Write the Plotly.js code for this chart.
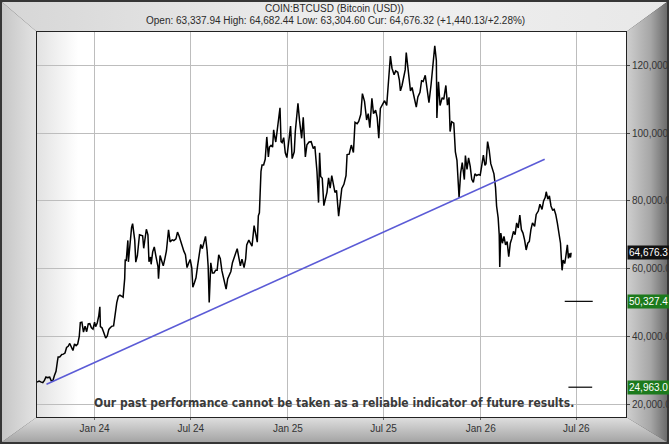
<!DOCTYPE html>
<html>
<head>
<meta charset="utf-8">
<script src="https://cdn.plot.ly/plotly-3.0.1.min.js"></script>
<style>html,body{margin:0;padding:0;background:#fff;}#chart{width:669px;height:444px;}</style>
</head>
<body>
<div id="chart"></div>
<script>
// ---- data ----
const titleLine1 = 'COIN:BTCUSD (Bitcoin (USD))';
const titleLine2 = 'Open: 63,337.94 High: 64,682.44 Low: 63,304.60 Cur: 64,676.32 (+1,440.13/+2.28%)';
const disclaimer = 'Our past performance cannot be taken as a reliable indicator of future results.';

const dates2023 = [
 '2023-09-14','2023-09-18','2023-09-21','2023-09-25','2023-09-28','2023-10-01','2023-10-04','2023-10-08',
 '2023-10-11','2023-10-14','2023-10-17','2023-10-20','2023-10-23','2023-10-24','2023-10-27','2023-10-31',
 '2023-11-03','2023-11-06','2023-11-09','2023-11-12','2023-11-15','2023-11-18','2023-11-21','2023-11-24',
 '2023-11-27','2023-11-30','2023-12-03','2023-12-05','2023-12-08','2023-12-11','2023-12-14','2023-12-17',
 '2023-12-20','2023-12-23','2023-12-26','2023-12-29'
];
const values2023 = [
 26500,26800,26550,26300,27000,27980,27800,27930,
 26870,26850,28400,29680,33000,33900,33900,34650,
 34730,35050,36700,37050,37880,36600,35800,37720,
 37250,37710,39950,44080,44200,41250,43000,41370,
 43650,43740,42520,42100
];
const dates2024 = [
 '2024-01-01','2024-01-03','2024-01-06','2024-01-09','2024-01-11','2024-01-12','2024-01-15','2024-01-18',
 '2024-01-22','2024-01-25','2024-01-28','2024-01-31','2024-02-03','2024-02-06','2024-02-09','2024-02-12',
 '2024-02-15','2024-02-18','2024-02-21','2024-02-24','2024-02-27','2024-02-28','2024-03-01','2024-03-04',
 '2024-03-05','2024-03-08','2024-03-11','2024-03-13','2024-03-17','2024-03-19','2024-03-22','2024-03-26',
 '2024-03-29','2024-04-01','2024-04-03','2024-04-08','2024-04-11','2024-04-13','2024-04-16','2024-04-17',
 '2024-04-20','2024-04-23','2024-04-26','2024-04-30','2024-05-01','2024-05-04','2024-05-07','2024-05-10',
 '2024-05-13','2024-05-16','2024-05-20','2024-05-23','2024-05-27','2024-05-30','2024-06-03','2024-06-06',
 '2024-06-09','2024-06-12','2024-06-15','2024-06-18','2024-06-21','2024-06-24','2024-06-27','2024-06-30',
 '2024-07-03','2024-07-05','2024-07-08','2024-07-11','2024-07-14','2024-07-17','2024-07-20','2024-07-23',
 '2024-07-26','2024-07-29','2024-08-01','2024-08-03','2024-08-05','2024-08-08','2024-08-11','2024-08-14',
 '2024-08-17','2024-08-20','2024-08-23','2024-08-26','2024-08-29','2024-09-01','2024-09-06','2024-09-09',
 '2024-09-12','2024-09-15','2024-09-18','2024-09-21','2024-09-24','2024-09-27','2024-09-30','2024-10-03',
 '2024-10-06','2024-10-10','2024-10-13','2024-10-15','2024-10-19','2024-10-22','2024-10-25','2024-10-29',
 '2024-11-01','2024-11-04','2024-11-06','2024-11-08','2024-11-11','2024-11-13','2024-11-16','2024-11-19',
 '2024-11-22','2024-11-25','2024-11-27','2024-11-30','2024-12-03','2024-12-05','2024-12-06','2024-12-09',
 '2024-12-12','2024-12-15','2024-12-17','2024-12-19','2024-12-21','2024-12-24','2024-12-27','2024-12-30'
];
const values2024 = [
 44180,42850,43930,46120,48700,42850,42510,41280,
 39500,40080,42030,42580,43010,43080,47150,49960,
 51840,52130,51850,51570,57050,62500,62430,68330,
 62000,68300,72120,73300,68400,61900,63800,69990,
 69900,69700,66000,71620,70000,62000,63400,61270,
 64940,66400,63750,60600,57000,63890,62300,60800,
 62900,65200,71450,67900,68500,68300,68800,70800,
 69650,68200,66200,65150,64100,60300,61600,62700,
 60200,54500,55850,57300,60800,64100,67150,65900,
 67900,69500,65350,60700,50000,61700,58700,58700,
 59500,59500,64100,62900,59400,57300,53950,57000,
 58100,59150,61750,63200,64300,65900,63300,60800,
 62800,60300,62900,67000,68400,67400,66600,72700,
 69500,67800,75600,76500,88700,90600,90600,92300,
 98900,93000,95900,96400,95900,101000,99900,97400,
 101000,104500,107500,97500,97200,98700,94200,92800
];
const dates2025 = [
 '2025-01-02','2025-01-06','2025-01-09','2025-01-13','2025-01-15','2025-01-17','2025-01-20','2025-01-23',
 '2025-01-27','2025-01-30','2025-02-02','2025-02-03','2025-02-06','2025-02-10','2025-02-14','2025-02-18',
 '2025-02-21','2025-02-25','2025-02-28','2025-03-02','2025-03-04','2025-03-07','2025-03-10','2025-03-13',
 '2025-03-16','2025-03-19','2025-03-22','2025-03-25','2025-03-28','2025-03-31','2025-04-03','2025-04-07',
 '2025-04-10','2025-04-13','2025-04-17','2025-04-21','2025-04-23','2025-04-27','2025-05-01','2025-05-05',
 '2025-05-08','2025-05-12','2025-05-15','2025-05-19','2025-05-22','2025-05-26','2025-05-30','2025-06-02',
 '2025-06-05','2025-06-09','2025-06-12','2025-06-16','2025-06-19','2025-06-22','2025-06-25','2025-06-29',
 '2025-07-03','2025-07-07','2025-07-10','2025-07-14','2025-07-17','2025-07-21','2025-07-24','2025-07-28',
 '2025-07-31','2025-08-02','2025-08-05','2025-08-08','2025-08-11','2025-08-13','2025-08-18','2025-08-21',
 '2025-08-24','2025-08-27','2025-08-30','2025-09-01','2025-09-04','2025-09-08','2025-09-11','2025-09-14',
 '2025-09-18','2025-09-22','2025-09-25','2025-09-29','2025-10-02','2025-10-06','2025-10-09','2025-10-10',
 '2025-10-13','2025-10-16','2025-10-20','2025-10-23','2025-10-27','2025-10-30','2025-11-02','2025-11-04',
 '2025-11-07','2025-11-11','2025-11-14','2025-11-17','2025-11-21','2025-11-24','2025-11-27','2025-12-01',
 '2025-12-03','2025-12-06','2025-12-09','2025-12-12','2025-12-15','2025-12-18','2025-12-21','2025-12-24',
 '2025-12-28','2025-12-31'
];
const values2025 = [
 96900,102100,92500,94500,100500,104500,108800,103700,
 98500,104700,97700,93000,96600,97400,97500,95500,
 96100,88700,79500,94200,87200,86700,78600,80700,
 82600,86800,83800,87500,84400,82500,83100,75500,
 79600,83700,84900,87500,93700,93800,96500,94300,
 103200,102800,103500,105600,111700,109400,103900,105800,
 101600,110300,105800,106800,104600,98500,107300,108400,
 109600,108200,116000,122800,119200,117300,118400,118000,
 115700,112500,114100,116700,118700,123800,116200,112500,
 113500,111200,108800,107700,110700,112100,115500,115300,
 117100,112700,109000,114400,120500,125800,121500,104500,
 115200,108200,110500,110000,114100,108300,110600,100500,
 103400,103000,94500,92000,81000,88300,91300,86300,
 93400,89300,92700,90300,86400,85500,88000,87500,
 87800,87600
];
const dates2026 = [
 '2026-01-03','2026-01-06','2026-01-09','2026-01-11','2026-01-14','2026-01-17','2026-01-20','2026-01-23',
 '2026-01-26','2026-01-29','2026-01-31','2026-02-03','2026-02-05','2026-02-06','2026-02-08','2026-02-11',
 '2026-02-14','2026-02-17','2026-02-20','2026-02-23','2026-02-26','2026-03-01','2026-03-04','2026-03-07',
 '2026-03-10','2026-03-13','2026-03-16','2026-03-19','2026-03-22','2026-03-25','2026-03-28','2026-03-31',
 '2026-04-03','2026-04-06','2026-04-09','2026-04-13','2026-04-16','2026-04-20','2026-04-23','2026-04-27',
 '2026-04-30','2026-05-03','2026-05-05','2026-05-08','2026-05-11','2026-05-14','2026-05-17','2026-05-20',
 '2026-05-23','2026-05-26','2026-05-29','2026-06-01','2026-06-03','2026-06-04','2026-06-06','2026-06-09',
 '2026-06-11','2026-06-14','2026-06-16','2026-06-18','2026-06-20','2026-06-21'
];
const values2026 = [
 90500,93500,90500,91000,97500,95000,91000,89500,
 88000,84000,78500,75000,70000,60500,70500,67500,
 69500,67000,68000,63500,67500,69000,71000,70000,
 73500,72000,75800,71500,70500,68500,65500,67500,
 68000,71500,73500,72500,76000,77000,79000,77500,
 80000,81000,82700,80500,81500,78500,77300,77500,
 76000,73500,71000,67500,62000,59500,62500,61500,
 63500,67000,63000,64500,63300,64676
];

const trendDates = ['2023-10-02', '2026-05-02'];
const trendValues = [25820, 92290];

const targetLevels = [50327.4, 24963.0];
const targetStarts = ['2026-06-09', '2026-06-16'];
const targetEnds = ['2026-08-01', '2026-07-31'];
const currentPrice = 64676.32;

const yTickValues = [20000, 40000, 60000, 80000, 100000, 120000];
const yTickLabels = ['20,000.0', '40,000.0', '60,000.0', '80,000.0', '100,000.0', '120,000.0'];
const xTickValues = ['2024-01-01', '2024-07-01', '2025-01-01', '2025-07-01', '2026-01-01', '2026-07-01'];
const xTickLabels = ['Jan 24', 'Jul 24', 'Jan 25', 'Jul 25', 'Jan 26', 'Jul 26'];

const priceDates = [].concat(dates2023, dates2024, dates2025, dates2026);
const priceValues = [].concat(values2023, values2024, values2025, values2026);

// ---- layout geometry ----
const W = 669, H = 444;
const M = {l: 37, r: 43, t: 32, b: 27};
const pw = W - M.l - M.r, ph = H - M.t - M.b;

const svg = `<svg xmlns='http://www.w3.org/2000/svg' width='${W}' height='${H}'>
<defs>
<linearGradient id='gTop' x1='0' y1='0' x2='1' y2='0'><stop offset='0' stop-color='#d6d6d6'/><stop offset='0.55' stop-color='#f0f0f0'/><stop offset='1' stop-color='#e8e8e8'/></linearGradient>
<linearGradient id='gRight' x1='0' y1='0' x2='1' y2='0'><stop offset='0' stop-color='#d0d0d0'/><stop offset='0.6' stop-color='#a6a6a6'/><stop offset='1' stop-color='#6c6c6c'/></linearGradient>
<linearGradient id='gBottom' x1='0' y1='0' x2='0' y2='1'><stop offset='0' stop-color='#e0e0e0'/><stop offset='1' stop-color='#a4a4a4'/></linearGradient>
<linearGradient id='gLeft' x1='0' y1='0' x2='1' y2='0'><stop offset='0' stop-color='#c6c6c6'/><stop offset='1' stop-color='#e4e4e4'/></linearGradient>
<linearGradient id='gPlot' x1='0' y1='0' x2='1' y2='0'><stop offset='0' stop-color='#e2e2e2'/><stop offset='0.07' stop-color='#ffffff'/><stop offset='1' stop-color='#ffffff'/></linearGradient>
</defs>
<rect width='${W}' height='${H}' fill='#363636'/>
<polygon points='2,2 667,2 626,32 37,32' fill='url(#gTop)'/>
<polygon points='667,2 667,442 626,417 626,32' fill='url(#gRight)'/>
<polygon points='2,442 667,442 626,417 37,417' fill='url(#gBottom)'/>
<polygon points='2,2 37,32 37,417 2,442' fill='url(#gLeft)'/>
<rect x='37' y='32' width='589' height='385' fill='url(#gPlot)'/>
</svg>`;
const bgSource = 'data:image/svg+xml;charset=utf-8,' + encodeURIComponent(svg);

const fmt1 = v => v.toLocaleString('en-US', {minimumFractionDigits: 1, maximumFractionDigits: 1});

const traces = [
  {
    type: 'scatter', mode: 'lines', x: priceDates, y: priceValues,
    line: {color: '#000000', width: 1.5}, hoverinfo: 'skip', showlegend: false
  },
  {
    type: 'scatter', mode: 'lines', x: trendDates, y: trendValues,
    line: {color: '#5b5bd6', width: 1.6}, hoverinfo: 'skip', showlegend: false
  }
];
targetLevels.forEach((lvl, i) => {
  traces.push({
    type: 'scatter', mode: 'lines', x: [targetStarts[i], targetEnds[i]], y: [lvl, lvl],
    line: {color: '#000000', width: 1.2}, hoverinfo: 'skip', showlegend: false
  });
});

const annotations = [
  {
    xref: 'paper', yref: 'paper', x: (335.5 - M.l) / pw, y: 1 + (M.t - 20.5) / ph,
    xanchor: 'center', yanchor: 'middle', showarrow: false, text: titleLine2,
    font: {family: 'Liberation Sans, Arial, sans-serif', size: 10, color: '#2a2a2a'}
  },
  {
    xref: 'paper', yref: 'paper', x: (334 - M.l) / pw, y: (417 - 403) / ph,
    xanchor: 'center', yanchor: 'middle', showarrow: false,
    text: '<b>' + disclaimer + '</b>',
    font: {family: 'DejaVu Sans Condensed, sans-serif', size: 12, color: '#3a3a3a'}
  },
  {
    xref: 'paper', yref: 'y', x: 1, y: currentPrice, xanchor: 'left', yanchor: 'middle', xshift: 1,
    showarrow: false, text: fmt1(currentPrice), bgcolor: '#111111', borderpad: 1,
    font: {family: 'Liberation Sans, Arial, sans-serif', size: 10, color: '#ffffff'}
  }
];
targetLevels.forEach(lvl => {
  annotations.push({
    xref: 'paper', yref: 'y', x: 1, y: lvl, xanchor: 'left', yanchor: 'middle', xshift: 1,
    showarrow: false, text: fmt1(lvl), bgcolor: '#1c7a1c', borderpad: 1,
    font: {family: 'Liberation Sans, Arial, sans-serif', size: 10, color: '#ffffff'}
  });
});

const layout = {
  width: W, height: H,
  margin: M,
  paper_bgcolor: '#c8c8c8',
  plot_bgcolor: '#ffffff',
  font: {family: 'Liberation Sans, Arial, sans-serif', size: 10, color: '#333333'},
  title: {
    text: titleLine1,
    font: {family: 'Liberation Sans, Arial, sans-serif', size: 10, color: '#2a2a2a'},
    x: 0.5, xref: 'container', xanchor: 'center',
    y: 1 - 8.5 / H, yref: 'container', yanchor: 'middle'
  },
  xaxis: {
    type: 'date', range: ['2023-09-14', '2026-10-03'],
    tickvals: xTickValues, ticktext: xTickLabels,
    showgrid: true, gridcolor: '#bdbdbd', gridwidth: 1,
    showline: true, linecolor: '#222222', linewidth: 1, mirror: true,
    ticks: 'outside', ticklen: 2, tickcolor: '#666666',
    tickfont: {size: 10, color: '#333333'}, zeroline: false, automargin: false, fixedrange: true
  },
  yaxis: {
    side: 'right', range: [16160, 129900],
    tickvals: yTickValues, ticktext: yTickLabels,
    showgrid: true, gridcolor: '#bdbdbd', gridwidth: 1,
    showline: true, linecolor: '#222222', linewidth: 1, mirror: true,
    ticks: 'outside', ticklen: 3, tickcolor: '#444444',
    tickfont: {size: 10, color: '#333333'}, zeroline: false, automargin: false, fixedrange: true
  },
  images: [{
    source: bgSource, xref: 'paper', yref: 'paper',
    x: -M.l / pw, y: 1 + M.t / ph, sizex: W / pw, sizey: H / ph,
    xanchor: 'left', yanchor: 'top', sizing: 'stretch', layer: 'below'
  }],
  annotations: annotations,
  showlegend: false
};

Plotly.newPlot('chart', traces, layout, {staticPlot: true, displayModeBar: false});
</script>
</body>
</html>
